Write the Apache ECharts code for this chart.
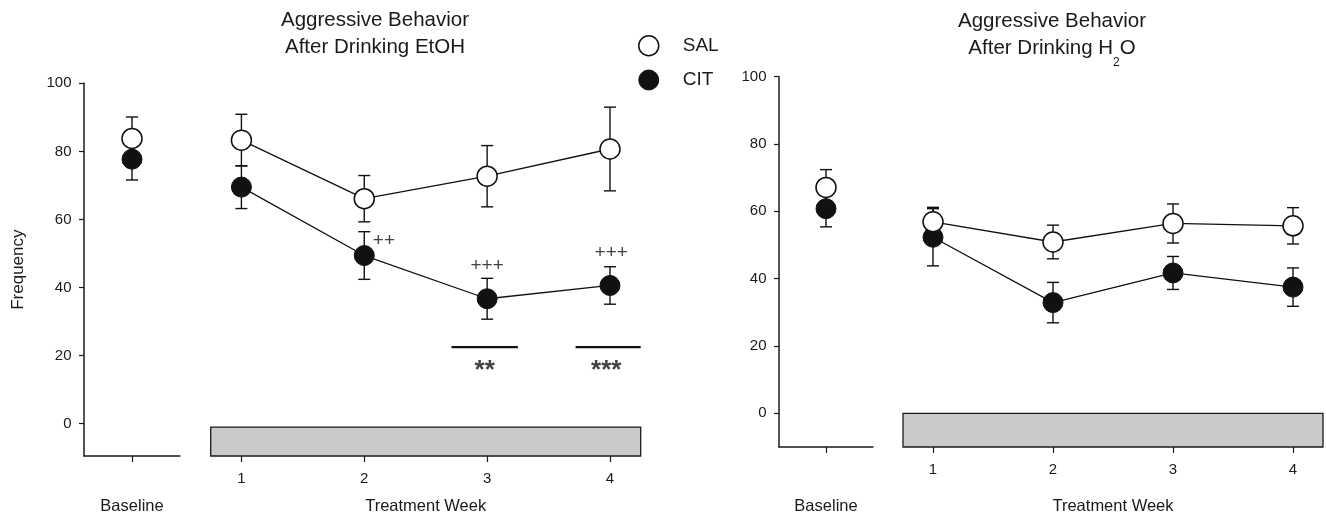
<!DOCTYPE html>
<html><head><meta charset="utf-8">
<script src="https://cdn.jsdelivr.net/npm/echarts@6/dist/echarts.min.js"></script>
<style>html,body{margin:0;padding:0;background:#fff}#c{width:1326px;height:520px}</style>
</head><body><div id="c"></div>
<script>
// ---------- data ----------
const weeks = [1, 2, 3, 4];
const yTicks = [0, 20, 40, 60, 80, 100];
const xTicks = [1, 2, 3, 4];

// EtOH panel
const etohBaseSal = [83.8], etohBaseSalErr = [6.3];
const etohBaseCit = [77.7], etohBaseCitErr = [6.1];
const etohSal = [83.3, 66.1, 72.7, 80.7], etohSalErr = [7.6, 6.8, 9.0, 12.3];
const etohCit = [69.5, 49.4, 36.7, 40.6], etohCitErr = [6.3, 7.0, 6.0, 5.5];
const etohPlusLabels = ['++', '+++', '+++'];
const etohPlusPos = [[2.16, 53.8], [3.0, 46.3], [4.01, 50.1]];
const etohStarLabels = ['**', '***'];
const etohStarPos = [[2.98, 16.6], [3.97, 16.6]];
const etohSigLines = [[2.71, 3.25, 22.5], [3.72, 4.25, 22.5]];
const etohBox = [[0.75, -1, 4.25, -9.5]];

// H2O panel
const h2oBaseSal = [67.1], h2oBaseSalErr = [5.3];
const h2oBaseCit = [60.8], h2oBaseCitErr = [5.4];
const h2oSal = [56.9, 50.9, 56.4, 55.7], h2oSalErr = [4.3, 5.0, 5.8, 5.4];
const h2oCit = [52.3, 32.9, 41.7, 37.5], h2oCitErr = [8.5, 6.0, 4.9, 5.7];
const h2oBox = [[0.75, 0, 4.25, -10]];

// ---------- styling ----------
const FONT = "'Liberation Sans', Arial, Helvetica, sans-serif";
const INK = '#111';
const AX = '#1a1a1a';
const salItem = {color: '#fff', borderColor: INK, borderWidth: 1.5};
const citItem = {color: INK, borderColor: INK, borderWidth: 1};

function errItem(params, api) {
  const x = api.value(0);
  const lo = api.coord([x, api.value(1)]);
  const hi = api.coord([x, api.value(2)]);
  const hw = 6;
  const st = {stroke: INK, lineWidth: 1.4};
  return {type: 'group', children: [
    {type: 'line', shape: {x1: lo[0], y1: lo[1], x2: hi[0], y2: hi[1]}, style: st},
    {type: 'line', shape: {x1: hi[0] - hw, y1: hi[1], x2: hi[0] + hw, y2: hi[1]}, style: st},
    {type: 'line', shape: {x1: lo[0] - hw, y1: lo[1], x2: lo[0] + hw, y2: lo[1]}, style: st}
  ]};
}
function boxItem(params, api) {
  const a = api.coord([api.value(0), api.value(1)]);
  const b = api.coord([api.value(2), api.value(3)]);
  return {type: 'rect', shape: {x: a[0], y: a[1], width: b[0] - a[0], height: b[1] - a[1]},
    style: {fill: '#c9cacc', stroke: AX, lineWidth: 1.3}};
}
function sigItem(params, api) {
  const a = api.coord([api.value(0), api.value(2)]);
  const b = api.coord([api.value(1), api.value(2)]);
  return {type: 'line', shape: {x1: a[0], y1: a[1], x2: b[0], y2: b[1]}, style: {stroke: INK, lineWidth: 2.2}};
}
const errData = (xs, vals, errs) => xs.map((x, i) => [x, vals[i] - errs[i], vals[i] + errs[i]]);
const pts = (xs, vals) => xs.map((x, i) => [x, vals[i]]);

function xBase(gi, gap) {
  return {type: 'value', gridIndex: gi, min: -0.5, max: 0.5,
    axisLine: {show: true, onZero: false, lineStyle: {color: AX, width: 1.5}},
    axisTick: {show: true, customValues: [0], length: 6, lineStyle: {color: AX, width: 1.2}},
    axisLabel: {show: false}, splitLine: {show: false},
    name: 'Baseline', nameLocation: 'middle', nameGap: gap,
    nameTextStyle: {fontFamily: FONT, fontSize: 16.5, color: AX}};
}
function xTreat(gi, gap) {
  return {type: 'value', gridIndex: gi, min: 0.75, max: 4.25,
    axisLine: {show: false, onZero: false},
    axisTick: {show: true, customValues: xTicks, length: 6, lineStyle: {color: AX, width: 1.2}},
    axisLabel: {show: true, customValues: xTicks, margin: 15, fontFamily: FONT, fontSize: 15, color: AX},
    splitLine: {show: false},
    name: 'Treatment Week', nameLocation: 'middle', nameGap: gap,
    nameTextStyle: {fontFamily: FONT, fontSize: 16.5, color: AX}};
}
function yAx(gi, min, show, withName) {
  const o = {type: 'value', gridIndex: gi, min: min, max: 100, show: show,
    axisLine: {show: true, onZero: false, lineStyle: {color: AX, width: 1.5}},
    axisTick: {show: true, customValues: yTicks, length: 5, lineStyle: {color: AX, width: 1.2}},
    axisLabel: {customValues: yTicks, margin: 12.5, fontFamily: FONT, fontSize: 15, color: AX},
    splitLine: {show: false}};
  if (withName) {
    o.name = 'Frequency'; o.nameLocation = 'middle'; o.nameRotate = 90; o.nameGap = 57;
    o.nameTextStyle = {fontFamily: FONT, fontSize: 17, color: AX};
  }
  return o;
}
function ptSeries(name, gi, data, item, z, isLine) {
  return {name: name, type: 'line', xAxisIndex: gi, yAxisIndex: gi, data: data,
    symbol: 'circle', symbolSize: 20, showSymbol: true, itemStyle: item, z: z,
    lineStyle: {color: INK, width: isLine ? 1.3 : 0, opacity: isLine ? 1 : 0},
    emphasis: {disabled: true}, silent: true};
}
function errSeries(gi, data) {
  return {type: 'custom', xAxisIndex: gi, yAxisIndex: gi, renderItem: errItem, data: data,
    encode: {x: 0, y: [1, 2]}, z: 1, silent: true};
}
function labelSeries(gi, labels, pos, fs, offY, fw) {
  return {type: 'scatter', xAxisIndex: gi, yAxisIndex: gi, symbolSize: 1, z: 4, silent: true,
    itemStyle: {color: 'rgba(0,0,0,0)'},
    data: pos.map((p, i) => ({value: p, name: labels[i]})),
    label: {show: true, position: 'inside', formatter: '{b}', fontFamily: FONT, fontSize: fs,
      fontWeight: fw, color: INK, offset: [0, offY]}};
}

const option = {
  animation: false,
  backgroundColor: '#fff',
  title: [
    {text: 'Aggressive Behavior\nAfter Drinking EtOH', left: 375, top: 7, textAlign: 'center', padding: 0,
      textStyle: {fontFamily: FONT, fontSize: 20.5, fontWeight: 'normal', color: AX, lineHeight: 26.7}},
    {text: 'Aggressive Behavior\nAfter Drinking H{s|2}O', left: 1052, top: 8, textAlign: 'center', padding: 0,
      textStyle: {fontFamily: FONT, fontSize: 20.5, fontWeight: 'normal', color: AX, lineHeight: 26.7,
        rich: {s: {fontFamily: FONT, fontSize: 12, color: AX, lineHeight: 26.7, verticalAlign: 'top', padding: [22, 0, 0, 0]}}}}
  ],
  legend: {
    orient: 'vertical', left: 638, top: 35, padding: 0, itemGap: 13, itemWidth: 20, itemHeight: 20,
    selectedMode: false,
    formatter: '{t|{name}}',
    textStyle: {fontFamily: FONT, fontSize: 19, color: AX, rich: {t: {fontFamily: FONT, fontSize: 19, color: AX, padding: [0, 0, 0, 19]}}},
    data: [
      {name: 'SAL', icon: 'circle', itemStyle: salItem},
      {name: 'CIT', icon: 'circle', itemStyle: citItem}
    ]
  },
  grid: [
    {left: 84, top: 83.3, width: 96, height: 376},
    {left: 210.7, top: 83.3, width: 430, height: 376},
    {left: 779, top: 76.7, width: 94, height: 378.3},
    {left: 903, top: 76.7, width: 420, height: 378.3}
  ],
  xAxis: [xBase(0, 42), xTreat(1, 42), xBase(2, 51), xTreat(3, 51)],
  yAxis: [yAx(0, -9.5, true, true), yAx(1, -9.5, false, false), yAx(2, -10, true, false), yAx(3, -10, false, false)],
  series: [
    // EtOH baseline
    errSeries(0, errData([0], etohBaseSal, etohBaseSalErr).concat(errData([0], etohBaseCit, etohBaseCitErr))),
    ptSeries('CIT', 0, pts([0], etohBaseCit), citItem, 2, false),
    ptSeries('SAL', 0, pts([0], etohBaseSal), salItem, 3, false),
    // EtOH treatment
    {type: 'custom', xAxisIndex: 1, yAxisIndex: 1, renderItem: boxItem, data: etohBox, z: 0, silent: true, clip: false},
    errSeries(1, errData(weeks, etohSal, etohSalErr).concat(errData(weeks, etohCit, etohCitErr))),
    ptSeries('CIT', 1, pts(weeks, etohCit), citItem, 2, true),
    ptSeries('SAL', 1, pts(weeks, etohSal), salItem, 3, true),
    {type: 'custom', xAxisIndex: 1, yAxisIndex: 1, renderItem: sigItem, data: etohSigLines, z: 1, silent: true, clip: false},
    labelSeries(1, etohPlusLabels, etohPlusPos, 19, 0, 'normal'),
    labelSeries(1, etohStarLabels, etohStarPos, 26, 4, 'bold'),
    // H2O baseline
    errSeries(2, errData([0], h2oBaseSal, h2oBaseSalErr).concat(errData([0], h2oBaseCit, h2oBaseCitErr))),
    ptSeries('CIT', 2, pts([0], h2oBaseCit), citItem, 2, false),
    ptSeries('SAL', 2, pts([0], h2oBaseSal), salItem, 3, false),
    // H2O treatment
    {type: 'custom', xAxisIndex: 3, yAxisIndex: 3, renderItem: boxItem, data: h2oBox, z: 0, silent: true, clip: false},
    errSeries(3, errData(weeks, h2oSal, h2oSalErr).concat(errData(weeks, h2oCit, h2oCitErr))),
    ptSeries('CIT', 3, pts(weeks, h2oCit), citItem, 2, true),
    ptSeries('SAL', 3, pts(weeks, h2oSal), salItem, 3, true)
  ]
};
const chart = echarts.init(document.getElementById('c'), null, {renderer: 'canvas'});
chart.setOption(option);
</script></body></html>
